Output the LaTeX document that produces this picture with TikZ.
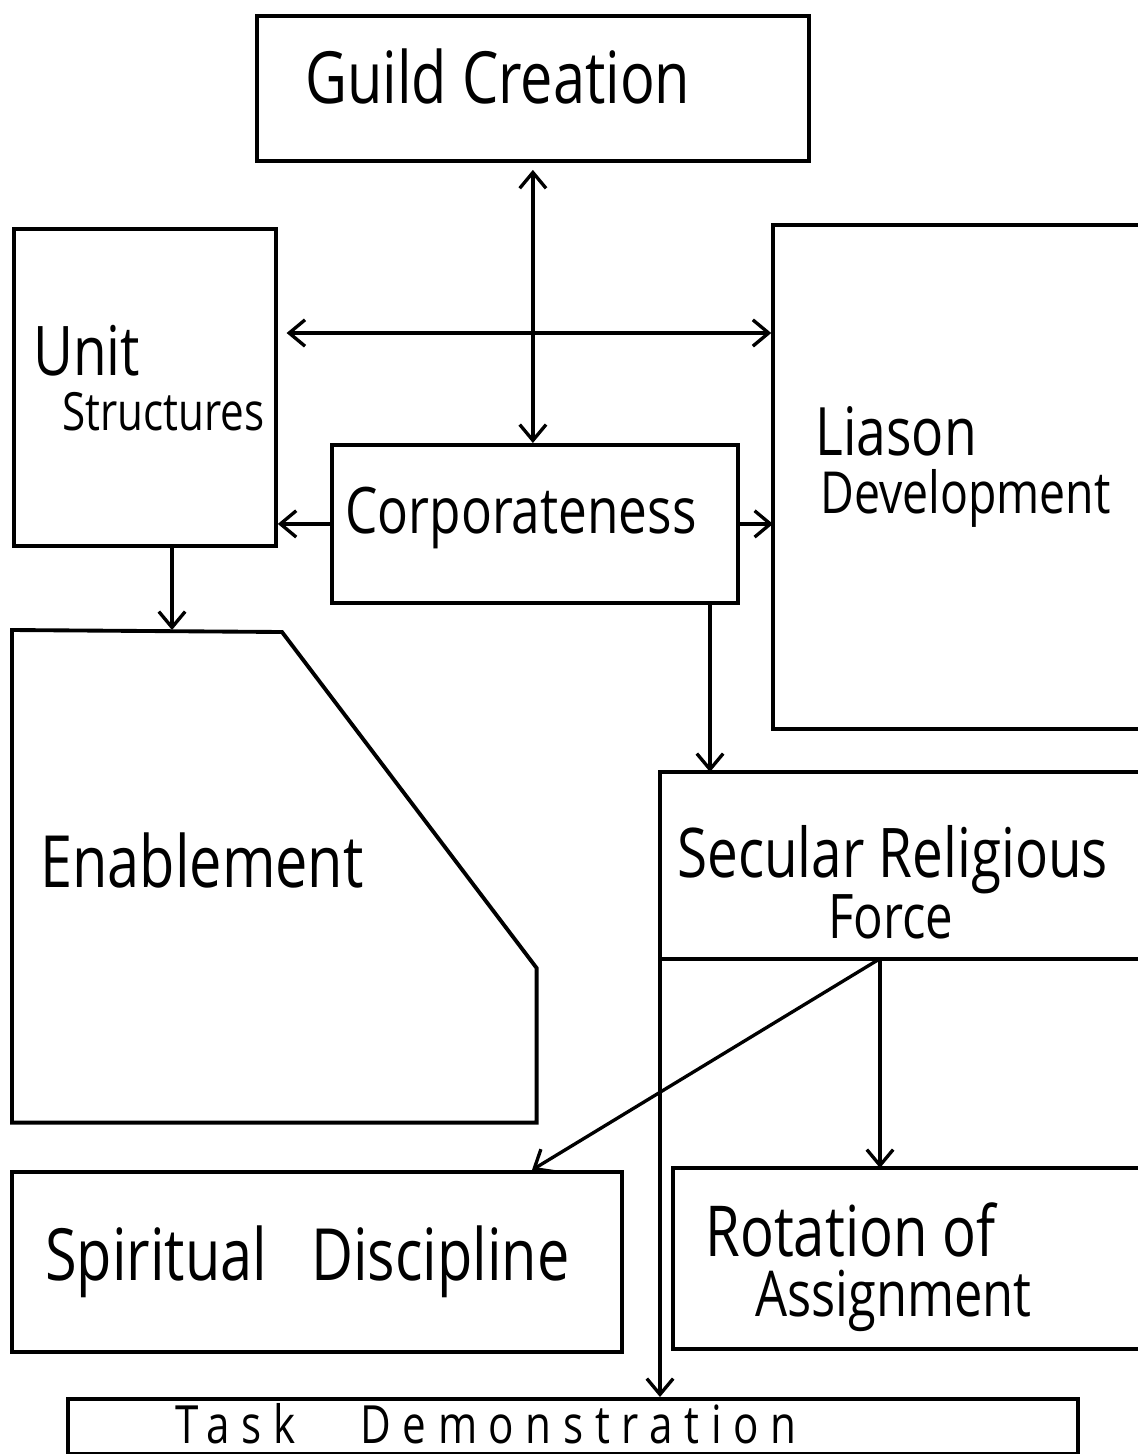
\documentclass[tikz,border=0pt]{standalone}
\usepackage{fontspec}
\usetikzlibrary{arrows.meta,calc}
\newfontfamily\hand[FakeStretch=0.8]{Open Sans}
\newfontfamily\handwide[FakeStretch=0.8,LetterSpace=22]{Open Sans}
\newcommand\handat[1]{\hand\fontsize{#1}{#1}\selectfont}
\newcommand\handwideat[1]{\handwide\fontsize{#1}{#1}\selectfont}

\tikzset{
  box/.style={draw, line width=2.2pt, rectangle, inner sep=0pt, anchor=north west},
  openbox/.style={rectangle, inner sep=0pt, anchor=north west},
  rim/.style={line width=2.2pt, line join=miter},
  lbl/.style={anchor=base west, inner sep=0pt},
  barb/.tip={Straight Barb[length=9pt,width=15pt,line width=1.9pt]},
  conn/.style={line width=1.9pt, -barb},
  dconn/.style={line width=1.9pt, barb-barb}
}

\begin{document}
\begin{tikzpicture}[x=0.02cm,y=-0.02cm]
\useasboundingbox (0,0) rectangle (1137,1454);

% boxes
\node[box, minimum width=11.04cm, minimum height=2.9cm] (guild) at (255,14) {};
\node[box, minimum width=5.24cm, minimum height=6.34cm] (unit) at (12,227) {};
\node[box, minimum width=8.12cm, minimum height=3.16cm] (corp) at (330,443) {};
\node[openbox, minimum width=7.28cm, minimum height=10.06cm] (liaison) at (773,225) {};
\node[openbox, minimum width=10.48cm, minimum height=9.84cm] (enable) at (12,630) {};
\node[openbox, minimum width=9.54cm, minimum height=3.72cm] (secular) at (660,772) {};
\node[box, minimum width=12.2cm, minimum height=3.6cm] (spirit) at (10,1170) {};
\node[openbox, minimum width=9.28cm, minimum height=3.6cm] (rotation) at (673,1168) {};
\node[box, minimum width=20.2cm, minimum height=1.1cm] (task) at (66,1397) {};

% boxes that run off the right edge
\draw[rim] (liaison.north east) -- (liaison.north west) -- (liaison.south west) -- (liaison.south east);
\draw[rim] (secular.north east) -- (secular.north west) -- (secular.south west) -- (secular.south east);
\draw[rim] (rotation.north east) -- (rotation.north west) -- (rotation.south west) -- (rotation.south east);

% Enablement with its cut corner
\draw[rim] (enable.north west) -- ($(enable.north west)+(270,2)$)
  -- ($(enable.north east)+(0,338)$) -- (enable.south east)
  -- (enable.south west) -- cycle;

% labels
\node[lbl, font=\handat{41}] (tguild) at (305,103) {Guild Creation};
\node[lbl, font=\handat{39}] (tunit) at (33,375) {Unit};
\node[lbl, font=\handat{30}] (tstruct) at (62,430) {Structures};
\node[lbl, font=\handat{36.5}] (tcorp) at (345,533) {Corporateness};
\node[lbl, font=\handat{38}] (tlia) at (815,455) {Liason};
\node[lbl, font=\handat{33}] (tdev) at (820,513) {Development};
\node[lbl, font=\handat{41}] (tenab) at (40,887) {Enablement};
\node[lbl, font=\handat{39}] (tsec) at (677,877) {Secular Religious};
\node[lbl, font=\handat{35}] (tforce) at (828,938) {Force};
\node[lbl, font=\handat{41}] (tspir) at (45,1280) {Spiritual\hspace{0.4em} Discipline};
\node[lbl, font=\handat{40}] (trot) at (705,1256) {Rotation of};
\node[lbl, font=\handat{36}] (tassign) at (755,1316) {Assignment};
\node[lbl, font=\handwideat{30}] (ttask) at (175,1443) {Task\hspace{0.8em} Demonstration};

% connectors
\coordinate (midrow) at (0,333);
\coordinate (unitdrop) at ($(unit.south west)+(160,0)$);
\coordinate (corpdrop) at ($(corp.south west)+(380,0)$);
\coordinate (fork) at ($(secular.south west)+(220,0)$);
\coordinate (spirittop) at ($(spirit.north west)+(522,0)$);

\draw[dconn, shorten <=4pt] (guild.south) -- (guild.south |- corp.north);
\draw[dconn, shorten <=5pt, shorten >=1pt] (unit.east |- midrow) -- (liaison.west |- midrow);
\draw[conn] (corp.west) -- (corp.west -| unit.east);
\draw[conn] (corp.east) -- (corp.east -| liaison.west);
\draw[conn] (unitdrop) -- (unitdrop |- enable.north);
\draw[conn] (corpdrop) -- (corpdrop |- secular.north);
\draw[conn] (fork) -- (spirittop);
\draw[conn] (fork) -- (fork |- rotation.north);
\draw[conn] (secular.south west) -- (secular.south west |- task.north);
\end{tikzpicture}
\end{document}
